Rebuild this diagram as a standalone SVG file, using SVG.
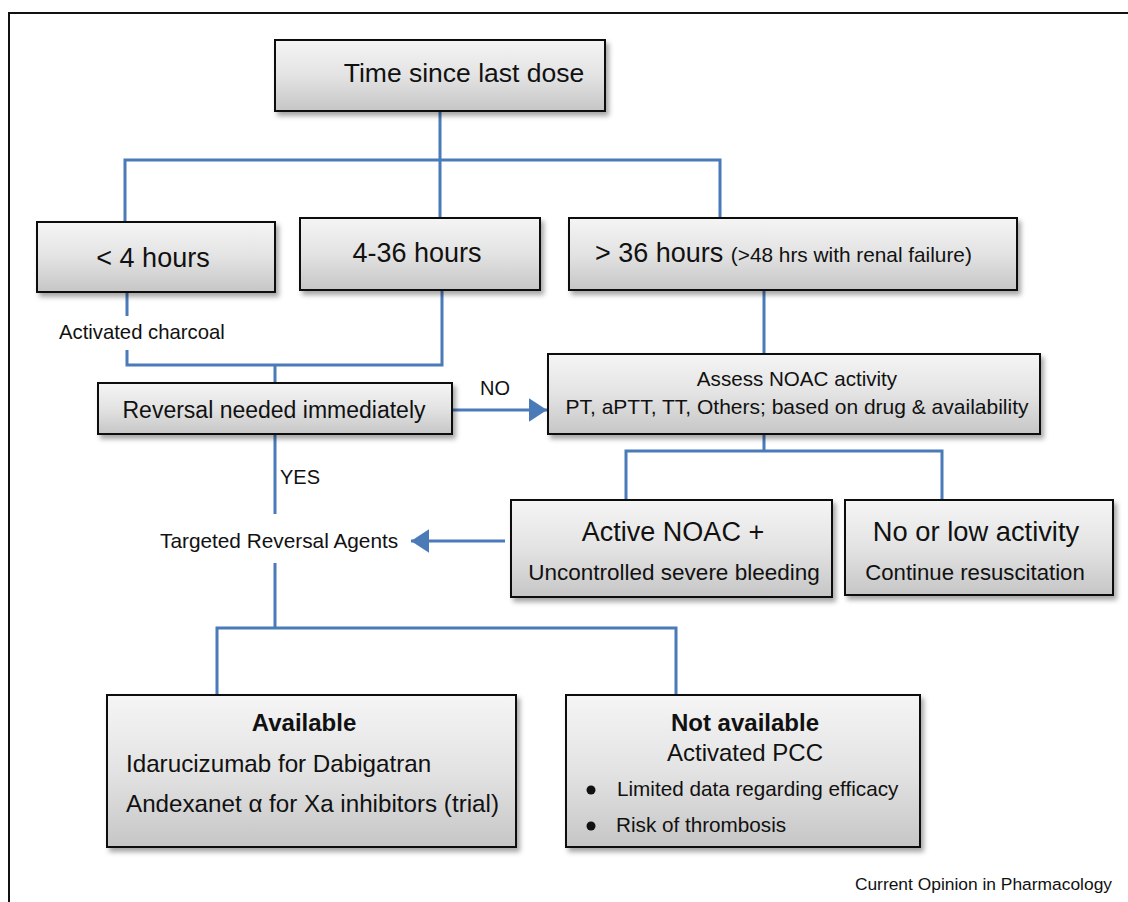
<svg xmlns="http://www.w3.org/2000/svg" width="1128" height="902" viewBox="0 0 1128 902">
<defs>
<linearGradient id="g" x1="0" y1="0" x2="0" y2="1">
<stop offset="0" stop-color="#f5f5f5"/>
<stop offset="0.5" stop-color="#e3e3e3"/>
<stop offset="1" stop-color="#c6c6c6"/>
</linearGradient>
<filter id="sh" x="-10%" y="-10%" width="125%" height="130%">
<feDropShadow dx="3" dy="4" stdDeviation="2.5" flood-color="#000" flood-opacity="0.35"/>
</filter>
<marker id="ah" viewBox="0 0 10 13" refX="10" refY="6.5" markerWidth="6" markerHeight="7.8" markerUnits="strokeWidth" orient="auto">
<path d="M0,0 L10,6.5 L0,13 z" fill="#4a7ab8"/>
</marker>
<style>
.box{fill:url(#g);stroke:#111;stroke-width:2;filter:url(#sh)}
.c{fill:none;stroke:#4a7ab8;stroke-width:3}
text{font-family:"Liberation Sans",Arial,sans-serif;fill:#111}
.m{text-anchor:middle}
</style>
</defs>
<rect x="0" y="0" width="1128" height="902" fill="#fff"/>
<rect x="9" y="13" width="1140" height="910" fill="none" stroke="#111" stroke-width="2"/>
<g id="connectors">
<path class="c" d="M440,111 V160 M125,222 V160 H720 V218 M440,160 V218"/>
<path class="c" d="M127,293 V316 M127,350 V365 H442 V290 M275,365 V383"/>
<path class="c" d="M764,290 V353"/>
<path class="c" d="M452,410 H547" marker-end="url(#ah)"/>
<path class="c" d="M764,434 V451 M626,500 V451 H942 V500"/>
<path class="c" d="M505,541 H411" marker-end="url(#ah)"/>
<path class="c" d="M275,434 V514 M275,563 V628 M217,695 V628 H676 V695"/>
</g>
<g id="n-time"><rect class="box" x="275" y="40" width="330" height="71"/><text class="m" x="464" y="82" font-size="26.5">Time since last dose</text></g>
<g id="n-lt4"><rect class="box" x="37" y="222" width="238" height="70"/><text class="m" x="153" y="267" font-size="27">&lt; 4 hours</text></g>
<g id="n-4to36"><rect class="box" x="300" y="218" width="240" height="72"/><text class="m" x="417" y="262" font-size="27">4-36 hours</text></g>
<g id="n-gt36"><rect class="box" x="569" y="218" width="448" height="72"/><text x="595" y="262" font-size="27">&gt; 36 hours <tspan font-size="20.8">(&gt;48 hrs with renal failure)</tspan></text></g>
<g id="l-charcoal"><text x="59" y="339" font-size="20.3">Activated charcoal</text></g>
<g id="n-reversal"><rect class="box" x="98" y="383" width="354" height="51"/><text class="m" x="274" y="418" font-size="23">Reversal needed immediately</text></g>
<g id="l-no"><text x="480" y="395" font-size="20">NO</text></g>
<g id="n-assess"><rect class="box" x="548" y="354" width="492" height="80"/><text class="m" x="797" y="386" font-size="20.6">Assess NOAC activity</text><text class="m" x="797" y="414" font-size="21">PT, aPTT, TT, Others; based on drug &amp; availability</text></g>
<g id="l-yes"><text x="280" y="484" font-size="20">YES</text></g>
<g id="l-targeted"><text x="160" y="548" font-size="20.8">Targeted Reversal Agents</text></g>
<g id="n-active"><rect class="box" x="511" y="500" width="321" height="97"/><text class="m" x="673" y="541" font-size="27">Active NOAC +</text><text class="m" x="674" y="580" font-size="22.5">Uncontrolled severe bleeding</text></g>
<g id="n-low"><rect class="box" x="845" y="500" width="268" height="95"/><text class="m" x="976" y="541" font-size="27.3">No or low activity</text><text class="m" x="975" y="580" font-size="22.2">Continue resuscitation</text></g>
<g id="n-available"><rect class="box" x="107" y="695" width="409" height="152"/><text class="m" x="304" y="731" font-size="24" font-weight="bold">Available</text><text x="126" y="772" font-size="24.2">Idarucizumab for Dabigatran</text><text x="126" y="812" font-size="24.2">Andexanet α for Xa inhibitors (trial)</text></g>
<g id="n-notavailable"><rect class="box" x="566" y="695" width="354" height="152"/><text class="m" x="745" y="731" font-size="24" font-weight="bold">Not available</text><text class="m" x="745" y="761" font-size="24">Activated PCC</text><circle cx="591" cy="790" r="4.5" fill="#111"/><text x="617" y="796" font-size="20.7">Limited data regarding efficacy</text><circle cx="591" cy="826" r="4.5" fill="#111"/><text x="616" y="832" font-size="20.7">Risk of thrombosis</text></g>
<g id="l-credit"><text x="1112" y="890" font-size="17.4" text-anchor="end">Current Opinion in Pharmacology</text></g>
</svg>
